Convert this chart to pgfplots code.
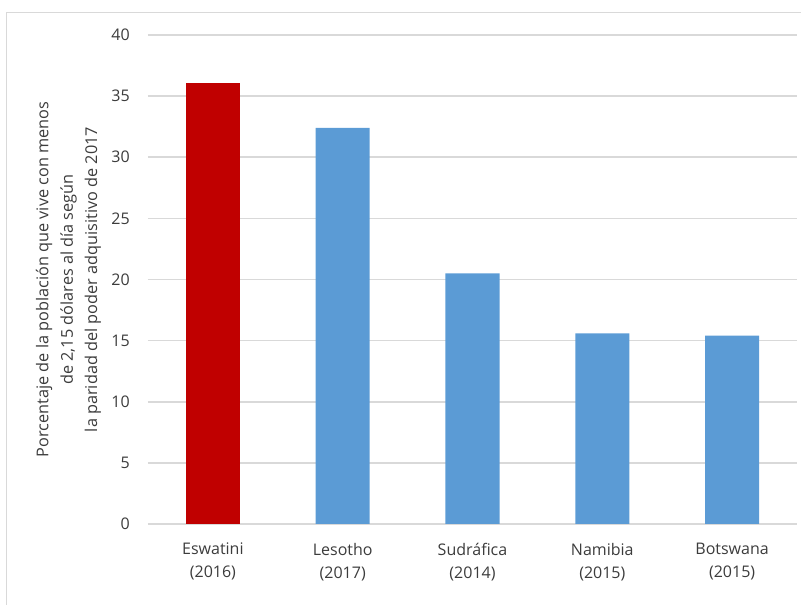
\documentclass[border=0pt]{standalone}
\usepackage{pgfplots}
\pgfplotsset{compat=1.18}
\usepackage{fontspec}
\setmainfont{Open Sans}
\definecolor{gridgray}{RGB}{217,217,217}
\definecolor{txt}{RGB}{60,60,60}
\definecolor{barred}{RGB}{192,0,0}
\definecolor{barblue}{RGB}{91,155,213}
\begin{document}
\begin{tikzpicture}[x=0.75pt,y=0.75pt]
\useasboundingbox (0,0) rectangle (801,605);
\draw[gridgray, line width=1pt] (6.5,-1) -- (6.5,592.5) -- (802,592.5);
\begin{axis}[
  at={(148pt*0.75,81pt*0.75)}, anchor=south west,
  scale only axis, width=486.75pt, height=366.75pt,
  xmin=-0.5, xmax=4.5, ymin=0, ymax=40,
  ytick={0,5,...,40},
  xtick={0,1,2,3,4},
  xticklabels={{Eswatini\\(2016)},{Lesotho\\(2017)},{Sudráfica\\(2014)},{Namibia\\(2015)},{Botswana\\(2015)}},
  ymajorgrids, grid style={color=gridgray, line width=1.2pt},
  axis line style={draw=none},
  major tick length=0pt,
  /pgf/number format/assume math mode=true,
  tick label style={font=\fontsize{12}{14}\selectfont, text=txt},
  yticklabel style={inner sep=0pt, xshift=-13.5pt},
  xticklabel style={align=center, inner sep=0pt, yshift=-14pt, font=\fontsize{12}{17.5}\selectfont},
  clip=false,
]
\addplot[ybar, bar width=40.5pt, bar shift=0pt, fill=barred, draw=none] coordinates {(0,36.1)};
\addplot[ybar, bar width=40.5pt, bar shift=0pt, fill=barblue, draw=none] coordinates {(1,32.4) (2,20.5) (3,15.6) (4,15.4)};
\end{axis}
\node[rotate=90, align=center, text=txt, font=\fontsize{12.2}{18.3}\selectfont] at (68.5,325.5) {Porcentaje de la población que vive con menos\\de 2,15 dólares al día según\\la paridad del poder adquisitivo de 2017};
\end{tikzpicture}
\end{document}
